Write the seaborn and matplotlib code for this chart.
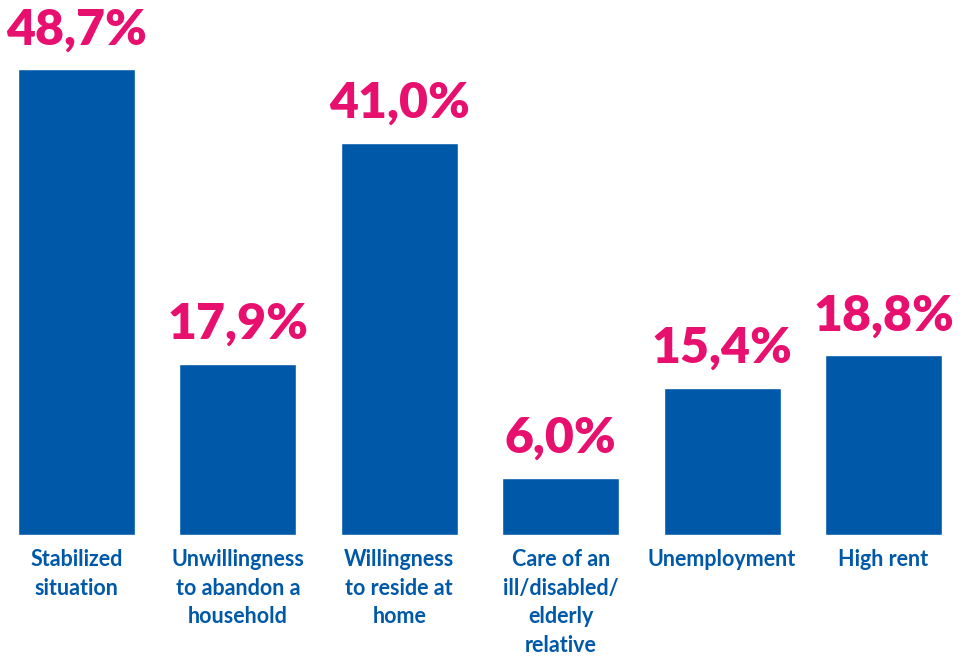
import matplotlib
matplotlib.use('Agg')
import matplotlib.pyplot as plt
import seaborn as sns
import pandas as pd

categories = ['Stabilized\nsituation', 'Unwillingness\nto abandon a\nhousehold',
              'Willingness\nto reside at\nhome', 'Care of an\nill/disabled/\nelderly\nrelative',
              'Unemployment', 'High rent']
values = [48.7, 17.9, 41.0, 6.0, 15.4, 18.8]

blue = '#0059A8'
pink = '#E8106E'

sns.set_style('white')
plt.rcParams['font.family'] = ['Lato', 'DejaVu Sans']

df = pd.DataFrame({'cat': categories, 'val': values})

fig = plt.figure(figsize=(9.65, 6.59), dpi=100)
ax = fig.add_axes([0, 0.188, 1, 0.812])
sns.barplot(data=df, x='cat', y='val', color=blue, width=0.725, saturation=1, ax=ax)

for i, v in enumerate(values):
    ax.annotate(f'{v:.1f}%'.replace('.', ','), (i, v), xytext=(0, 12), textcoords='offset points',
                ha='center', va='bottom', color=pink, fontsize=36, fontweight='heavy')

ax.set_xlim(-0.474, 5.505)
ax.set_ylim(0, 55.9)
ax.set_xlabel('')
ax.set_ylabel('')
ax.set_yticks([])
for s in ax.spines.values():
    s.set_visible(False)
ax.tick_params(axis='x', length=0, pad=10)
for lbl in ax.get_xticklabels():
    lbl.set_color(blue)
    lbl.set_fontsize(15.5)
    lbl.set_fontweight('bold')
    lbl.set_linespacing(1.45)
    lbl.set_va('top')

fig.savefig('out.png', dpi=100)
